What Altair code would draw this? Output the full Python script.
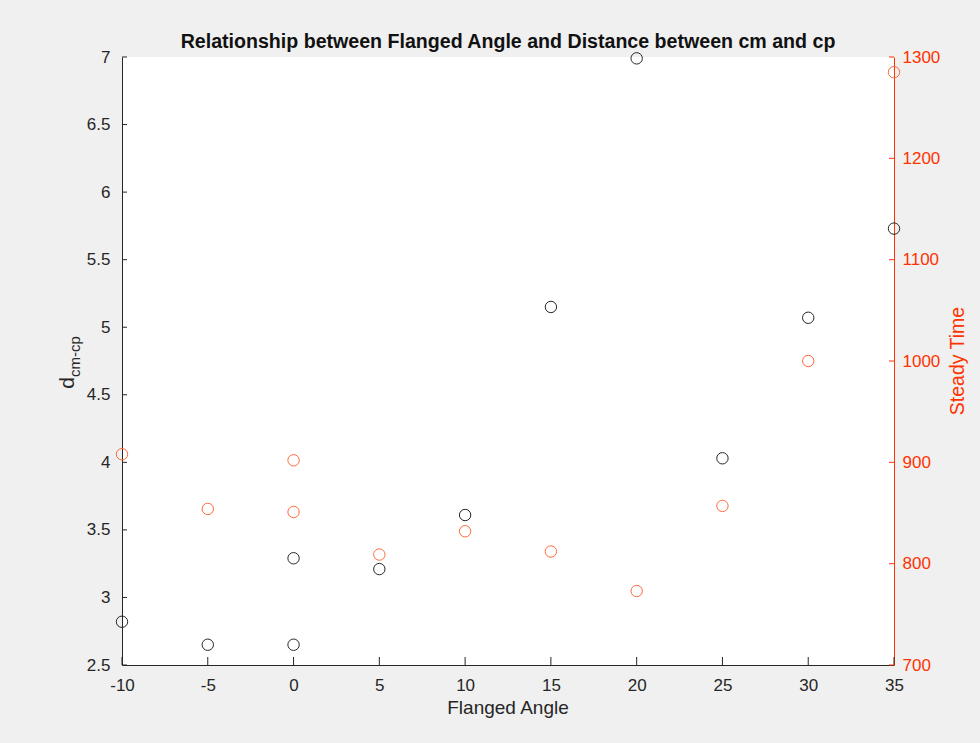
import altair as alt
import pandas as pd

# ---- data ----
angle_d = [-10, -5, 0, 0, 5, 10, 15, 20, 25, 30, 35]
d_vals = [2.82, 2.65, 2.65, 3.29, 3.21, 3.61, 5.15, 6.99, 4.03, 5.07, 5.73]
angle_t = [-10, -5, 0, 0, 5, 10, 15, 20, 25, 30, 35]
t_vals = [908, 854, 902, 851, 809, 832, 812, 773, 857, 1000, 1285]

x_ticks = [-10, -5, 0, 5, 10, 15, 20, 25, 30, 35]
d_ticks = [2.5, 3, 3.5, 4, 4.5, 5, 5.5, 6, 6.5, 7]
t_ticks = [700, 800, 900, 1000, 1100, 1200, 1300]

title_txt = ["Relationship between Flanged Angle and Distance between cm and cp"]
xlabel_txt = ["Flanged Angle"]
ylabel_main = ["d"]
ylabel_sub = ["cm-cp"]
ylabel_right = ["Steady Time"]

BLACK = "#262626"
ORANGE = "#ff3300"
ORANGE_M = "#ff6a3d"
FONT = "Liberation Sans"

W, H = 772, 608

df_d = pd.DataFrame({"angle": angle_d, "d": d_vals})
df_t = pd.DataFrame({"angle": angle_t, "t": t_vals})
df_xt = pd.DataFrame({"angle": x_ticks})
df_dt = pd.DataFrame({"d": d_ticks})
df_tt = pd.DataFrame({"t": t_ticks})

xscale = alt.Scale(domain=[-10, 35], nice=False, zero=False)
dscale = alt.Scale(domain=[2.5, 7], nice=False, zero=False)
tscale = alt.Scale(domain=[700, 1300], nice=False, zero=False)

xaxis = alt.Axis(values=x_ticks, title=None, grid=False, ticks=False,
                 domainColor=BLACK, labelColor=BLACK, labelFont=FONT,
                 labelFontSize=17, labelPadding=12, labelFlush=False,
                 labelOverlap=False, labelExpr="toString(datum.value)")
daxis = alt.Axis(values=d_ticks, title=None, grid=False, ticks=False,
                 orient="left", domainColor=BLACK, labelColor=BLACK,
                 labelFont=FONT, labelFontSize=17, labelPadding=12,
                 labelOverlap=False, labelFlush=False,
                 labelExpr="toString(datum.value)")
taxis = alt.Axis(values=t_ticks, title=None, grid=False, ticks=False,
                 orient="right", domainColor=ORANGE, labelColor=ORANGE,
                 labelFont=FONT, labelFontSize=17, labelPadding=8,
                 labelOverlap=False, labelFlush=False,
                 labelExpr="toString(datum.value)")

X = alt.X("angle:Q", scale=xscale, axis=xaxis)

black_pts = alt.Chart(df_d).mark_point(
    shape="circle", filled=False, size=130, strokeWidth=1, color=BLACK, opacity=1
).encode(x=X, y=alt.Y("d:Q", scale=dscale, axis=daxis))

d_ticks_layer = alt.Chart(df_dt).mark_rule(color=BLACK, strokeWidth=1).encode(
    y=alt.Y("d:Q", scale=dscale, axis=daxis), x=alt.value(0), x2=alt.value(5)
)

x_ticks_layer = alt.Chart(df_xt).mark_rule(color=BLACK, strokeWidth=1).encode(
    x=X, y=alt.value(H), y2=alt.value(H - 8)
)

left = alt.layer(x_ticks_layer, d_ticks_layer, black_pts)

orange_pts = alt.Chart(df_t).mark_point(
    shape="circle", filled=False, size=130, strokeWidth=1, color=ORANGE_M, opacity=1
).encode(x=X, y=alt.Y("t:Q", scale=tscale, axis=taxis))

t_ticks_layer = alt.Chart(df_tt).mark_rule(color=ORANGE, strokeWidth=1).encode(
    y=alt.Y("t:Q", scale=tscale, axis=taxis), x=alt.value(W), x2=alt.value(W - 5)
)

right = alt.layer(t_ticks_layer, orange_pts)

title_layer = alt.Chart(pd.DataFrame({"s": title_txt})).mark_text(
    font=FONT, fontSize=19.6, fontWeight="bold", color="#111111",
    align="center", baseline="alphabetic"
).encode(text="s:N", x=alt.value(W / 2), y=alt.value(-9))

xlabel_layer = alt.Chart(pd.DataFrame({"s": xlabel_txt})).mark_text(
    font=FONT, fontSize=19, color=BLACK, align="center", baseline="alphabetic"
).encode(text="s:N", x=alt.value(W / 2), y=alt.value(657))

d_layer = alt.Chart(pd.DataFrame({"s": ylabel_main})).mark_text(
    font=FONT, fontSize=21, color=BLACK, align="center", baseline="alphabetic", angle=270
).encode(text="s:N", x=alt.value(-48), y=alt.value(326))

sub_layer = alt.Chart(pd.DataFrame({"s": ylabel_sub})).mark_text(
    font=FONT, fontSize=15, color=BLACK, align="left", baseline="alphabetic", angle=270
).encode(text="s:N", x=alt.value(-42), y=alt.value(320))

rt_layer = alt.Chart(pd.DataFrame({"s": ylabel_right})).mark_text(
    font=FONT, fontSize=19.5, color=ORANGE, align="center", baseline="alphabetic", angle=270
).encode(text="s:N", x=alt.value(842), y=alt.value(H / 2))

chart = alt.layer(
    left, right, title_layer, xlabel_layer, d_layer, sub_layer, rt_layer
).resolve_scale(y="independent").properties(
    width=W, height=H,
    autosize=alt.AutoSizeParams(type="none"),
    padding={"left": 122, "top": 57, "right": 86, "bottom": 78},
    background="#f0f0f0",
).configure_view(fill="white", strokeWidth=0)

chart.save("out.html", embed_options={"renderer": "svg", "actions": False})
